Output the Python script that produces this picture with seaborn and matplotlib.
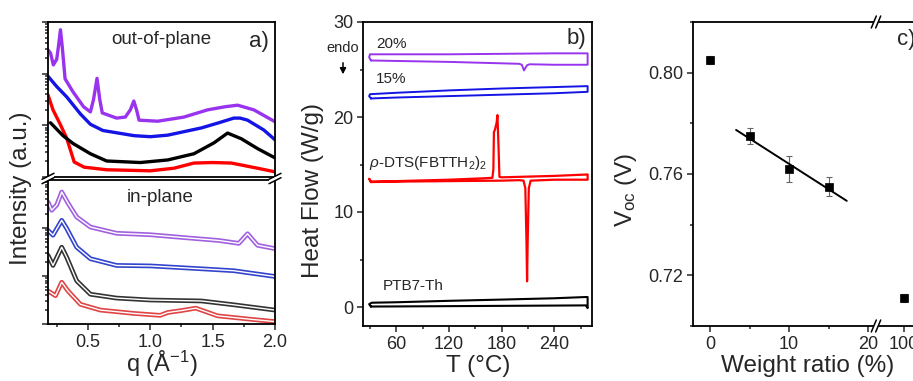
import numpy as np
import matplotlib
matplotlib.use("Agg")
import matplotlib.pyplot as plt
import seaborn as sns
from matplotlib.ticker import MultipleLocator, FixedLocator, NullLocator, NullFormatter, FormatStrFormatter
from matplotlib.lines import Line2D
from matplotlib.patches import Polygon

# ---- panel a: GIWAXS line cuts, log10 intensity (a.u.) ----
q_oop_pur = [0.18, 0.20, 0.223, 0.25, 0.265, 0.28, 0.295, 0.317, 0.38, 0.465, 0.52, 0.545, 0.573, 0.595,
             0.615, 0.73, 0.80, 0.84, 0.868, 0.89, 0.91, 1.06, 1.27, 1.46, 1.60, 1.70, 1.83, 2.0]
l_oop_pur = [2.46, 2.40, 2.17, 2.28, 2.55, 2.85, 2.50, 1.90, 1.65, 1.36, 1.26, 1.50, 1.91, 1.50,
             1.24, 1.14, 1.16, 1.30, 1.47, 1.30, 1.10, 1.08, 1.16, 1.30, 1.36, 1.39, 1.30, 1.07]
q_oop_blu = [0.18, 0.25, 0.33, 0.44, 0.52, 0.62, 0.87, 1.0, 1.14, 1.41, 1.55, 1.67, 1.72, 1.78, 1.91, 2.0]
l_oop_blu = [1.95, 1.75, 1.55, 1.22, 1.02, 0.90, 0.80, 0.78, 0.81, 0.95, 1.05, 1.14, 1.14, 1.10, 0.91, 0.72]
q_oop_blk = [0.20, 0.30, 0.38, 0.45, 0.52, 0.65, 0.92, 1.14, 1.35, 1.51, 1.62, 1.73, 1.86, 2.0]
l_oop_blk = [1.05, 0.80, 0.65, 0.55, 0.45, 0.31, 0.28, 0.33, 0.45, 0.66, 0.85, 0.74, 0.55, 0.37]
q_oop_red = [0.18, 0.22, 0.28, 0.33, 0.36, 0.39, 0.47, 0.65, 1.0, 1.19, 1.35, 1.50, 1.65, 1.86, 2.0]
l_oop_red = [1.59, 1.30, 1.01, 0.75, 0.52, 0.29, 0.19, 0.14, 0.12, 0.17, 0.27, 0.28, 0.27, 0.17, 0.10]

q_ip_pur = [0.18, 0.21, 0.25, 0.29, 0.34, 0.41, 0.52, 0.73, 1.0, 1.27, 1.55, 1.71, 1.78, 1.86, 2.0]
l_ip_pur = [2.54, 2.37, 2.48, 2.75, 2.52, 2.23, 2.02, 1.89, 1.86, 1.80, 1.74, 1.68, 1.88, 1.64, 1.57]
q_ip_blu = [0.18, 0.22, 0.29, 0.33, 0.41, 0.52, 0.73, 1.0, 1.41, 1.67, 2.0]
l_ip_blu = [1.95, 1.85, 2.16, 1.99, 1.60, 1.36, 1.22, 1.21, 1.15, 1.11, 0.99]
q_ip_blk = [0.18, 0.22, 0.29, 0.33, 0.41, 0.52, 0.73, 1.0, 1.41, 1.67, 2.0]
l_ip_blk = [1.43, 1.22, 1.60, 1.39, 0.90, 0.62, 0.54, 0.50, 0.48, 0.40, 0.29]
q_ip_red = [0.18, 0.24, 0.29, 0.34, 0.44, 0.60, 0.87, 1.08, 1.14, 1.25, 1.365, 1.54, 1.80, 2.0]
l_ip_red = [0.69, 0.59, 0.87, 0.69, 0.41, 0.29, 0.22, 0.18, 0.24, 0.28, 0.33, 0.17, 0.10, 0.05]

# ---- panel b: DSC heating (lower) and cooling (upper) traces, W/g ----
t20_heat = [31, 60, 120, 180, 200, 203, 205.5, 207, 209, 212, 240, 278]
hf20_heat = [25.95, 25.9, 25.8, 25.65, 25.6, 25.5, 24.9, 25.15, 25.45, 25.55, 25.5, 25.5]
t20_cool = [278, 240, 180, 120, 60, 30, 29]
hf20_cool = [26.7, 26.7, 26.65, 26.6, 26.6, 26.6, 26.3]

t15_heat = [31, 60, 120, 180, 240, 278]
hf15_heat = [21.95, 22.05, 22.2, 22.35, 22.5, 22.65]
t15_cool = [278, 240, 180, 120, 60, 30, 29]
hf15_cool = [23.25, 23.15, 23.0, 22.8, 22.55, 22.4, 22.2]

tsm_heat = [31, 60, 120, 180, 200, 205, 207, 208.3, 209, 209.7, 211, 213, 240, 278]
hfsm_heat = [13.15, 13.2, 13.25, 13.3, 13.35, 13.3, 12.5, 7.0, 2.7, 7.0, 12.5, 13.3, 13.4, 13.4]
tsm_cool = [278, 240, 200, 180, 177.5, 176.6, 175.2, 174.3, 172.5, 171.2, 170.6, 169.5, 160, 120, 60, 31, 29]
hfsm_cool = [13.95, 13.8, 13.7, 13.65, 13.7, 16.5, 20.2, 19.4, 18.7, 18.4, 14.5, 13.6, 13.55, 13.4, 13.25, 13.2, 13.5]

tpol_heat = [31, 60, 120, 180, 240, 276, 278]
hfpol_heat = [0.05, 0.06, 0.09, 0.12, 0.15, 0.17, -0.12]
tpol_cool = [278, 276, 240, 180, 120, 60, 32, 29]
hfpol_cool = [1.05, 1.05, 0.92, 0.78, 0.65, 0.5, 0.45, 0.3]

# ---- panel c: Voc vs weight ratio ----
weight = [0, 5, 10, 15, 100]
voc = [0.805, 0.775, 0.762, 0.755, 0.711]
voc_err = [0.0015, 0.003, 0.005, 0.0037, 0.0015]
fit_range = [3.3, 17.3]

PUR, BLU, RED = "#9933ee", "#1414e6", "#ff0000"
PUR_L, BLU_L, BLK_L, RED_L = "#a060e0", "#3344cc", "#333333", "#e04444"

sns.set_style("ticks")
plt.rcParams["font.family"] = ["Liberation Sans", "DejaVu Sans"]
plt.rcParams["mathtext.fontset"] = "custom"
plt.rcParams["mathtext.rm"] = "Liberation Sans"
plt.rcParams["mathtext.it"] = "Liberation Sans:italic"
plt.rcParams["axes.linewidth"] = 1.3

W, H = 913, 381
fig = plt.figure(figsize=(W / 100, H / 100), dpi=100)


def box(l, t, r, b):
    return [l / W, 1 - b / H, (r - l) / W, (b - t) / H]


def px(x, y):
    return x / W, 1 - y / H


def style(ax, left=True, bottom=True):
    ax.tick_params(which="both", direction="out", width=1.1, labelsize=13,
                   top=False, right=False, left=left, bottom=bottom, pad=3)
    ax.tick_params(which="major", length=4)
    ax.tick_params(which="minor", length=2.5)
    for s in ax.spines.values():
        s.set_color("black")


ax_t = fig.add_axes(box(48, 22, 275, 177))
ax_l = fig.add_axes(box(48, 180, 275, 324))
ax_b = fig.add_axes(box(363, 22, 592, 326))
ax_c1 = fig.add_axes(box(693, 22, 876, 326))
ax_c2 = fig.add_axes(box(876, 22, 950, 326))

# ---------- panel a ----------
for q, l, c in [(q_oop_red, l_oop_red, RED), (q_oop_blk, l_oop_blk, "black"),
                (q_oop_blu, l_oop_blu, BLU), (q_oop_pur, l_oop_pur, PUR)]:
    sns.lineplot(x=q, y=10 ** np.array(l), color=c, lw=2.4, sort=False, estimator=None, ax=ax_t)
for q, l, c in [(q_ip_red, l_ip_red, RED_L), (q_ip_blk, l_ip_blk, BLK_L),
                (q_ip_blu, l_ip_blu, BLU_L), (q_ip_pur, l_ip_pur, PUR_L)]:
    yv = 10 ** np.array(l)
    sns.lineplot(x=q, y=yv, color=c, lw=3.4, sort=False, estimator=None, ax=ax_l)
    sns.lineplot(x=q, y=yv, color="white", lw=1.0, sort=False, estimator=None, ax=ax_l)

for ax in (ax_t, ax_l):
    ax.set_yscale("log")
    ax.set_ylim(1, 1000)
    ax.set_xlim(0.18, 2.0)
    ax.yaxis.set_major_formatter(NullFormatter())
    ax.yaxis.set_minor_formatter(NullFormatter())
    ax.set_xlabel("")
    ax.set_ylabel("")
    style(ax)
ax_t.tick_params(which="both", bottom=False, labelbottom=False)
ax_l.xaxis.set_major_locator(MultipleLocator(0.5))
ax_l.xaxis.set_minor_locator(MultipleLocator(0.25))
ax_l.xaxis.set_major_formatter(FormatStrFormatter("%.1f"))

ax_t.text(0.498, 0.884, "out-of-plane", transform=ax_t.transAxes, ha="center", va="center", fontsize=13.5)
ax_t.text(0.93, 0.877, "a)", transform=ax_t.transAxes, ha="center", va="center", fontsize=16)
ax_l.text(0.493, 0.875, "in-plane", transform=ax_l.transAxes, ha="center", va="center", fontsize=13.5)

# ---------- panel b ----------
for th, hh, tc, hc, c, lw in [(tpol_heat, hfpol_heat, tpol_cool, hfpol_cool, "black", 1.5),
                              (tsm_heat, hfsm_heat, tsm_cool, hfsm_cool, RED, 1.6),
                              (t15_heat, hf15_heat, t15_cool, hf15_cool, BLU, 1.4),
                              (t20_heat, hf20_heat, t20_cool, hf20_cool, PUR, 1.4)]:
    tt = th + tc + th[:1]
    hf = hh + hc + hh[:1]
    sns.lineplot(x=tt, y=hf, color=c, lw=lw, sort=False, estimator=None, ax=ax_b)
ax_b.set_xlim(22, 283)
ax_b.set_ylim(-2, 30)
ax_b.xaxis.set_major_locator(MultipleLocator(60))
ax_b.xaxis.set_minor_locator(MultipleLocator(30))
ax_b.yaxis.set_major_locator(MultipleLocator(10))
ax_b.yaxis.set_minor_locator(MultipleLocator(5))
ax_b.set_xlabel("")
ax_b.set_ylabel("")
style(ax_b)
ax_b.text(37, 26.9, "20%", fontsize=11, ha="left", va="bottom")
ax_b.text(37, 23.3, "15%", fontsize=11, ha="left", va="bottom")
ax_b.text(29, 14.2, r"$\it{\rho}$-DTS(FBTTH$_2$)$_2$", fontsize=11, ha="left", va="bottom")
ax_b.text(44, 1.5, "PTB7-Th", fontsize=11, ha="left", va="bottom")
ax_b.text(0.93, 0.947, "b)", transform=ax_b.transAxes, ha="center", va="center", fontsize=16)
fig.text(*px(343, 48), "endo", fontsize=10.5, ha="center", va="center")
ax_b.annotate("", xy=px(343, 77), xytext=px(343, 60), xycoords="figure fraction",
              textcoords="figure fraction",
              arrowprops=dict(arrowstyle="-|>,head_length=0.35,head_width=0.18", color="black", lw=1.1))

# ---------- panel c ----------
slope, icept = np.polyfit(weight[1:4], voc[1:4], 1)
fit_y = [slope * x + icept for x in fit_range]
for ax in (ax_c1, ax_c2):
    ax.errorbar(weight, voc, yerr=voc_err, fmt="none", ecolor="#666666", elinewidth=0.8, capsize=2.5, capthick=0.8)
    sns.scatterplot(x=weight, y=voc, marker="s", s=32, color="black", edgecolor="black", linewidth=0.5, ax=ax, zorder=3)
    ax.set_ylim(0.70, 0.82)
    ax.set_xlabel("")
    ax.set_ylabel("")
sns.lineplot(x=fit_range, y=fit_y, color="black", lw=1.4, ax=ax_c1)
ax_c1.set_xlim(-2.15, 21)
ax_c2.set_xlim(97, 105)
ax_c1.xaxis.set_major_locator(MultipleLocator(10))
ax_c1.xaxis.set_minor_locator(MultipleLocator(5))
ax_c1.yaxis.set_major_locator(MultipleLocator(0.04))
ax_c1.yaxis.set_minor_locator(MultipleLocator(0.02))
ax_c1.yaxis.set_major_formatter(FormatStrFormatter("%.2f"))
ax_c2.xaxis.set_major_locator(FixedLocator([100]))
ax_c2.xaxis.set_minor_locator(NullLocator())
ax_c1.spines["right"].set_visible(False)
ax_c2.spines["left"].set_visible(False)
style(ax_c1)
style(ax_c2, left=False)
ax_c2.tick_params(labelleft=False)
# panel label sits at the right edge, partly cut as in the source figure
fig.text(*px(897, 39), "c)", fontsize=16, ha="left", va="center")

# ---------- axis labels ----------
fig.text(*px(21, 188), "Intensity (a.u.)", rotation=90, ha="center", va="center", fontsize=17.5)
fig.text(*px(162, 364), r"q (Å$^{-1}$)", ha="center", va="center", fontsize=17)
fig.text(*px(313, 190), "Heat Flow (W/g)", rotation=90, ha="center", va="center", fontsize=17.5)
fig.text(*px(478, 366), "T (°C)", ha="center", va="center", fontsize=17.5)
fig.text(*px(626, 190), r"V$_{\rm oc}$ (V)", rotation=90, ha="center", va="center", fontsize=17.5)
fig.text(*px(808, 366), "Weight ratio (%)", ha="center", va="center", fontsize=17.5)


# ---------- axis break marks ----------
def break_mark(x, y, dx, dy, ox, oy):
    corners = [(x - dx - ox, y + dy - oy), (x + dx - ox, y - dy - oy),
               (x + dx + ox, y - dy + oy), (x - dx + ox, y + dy + oy)]
    fig.add_artist(Polygon([px(*c) for c in corners], closed=True, fc="white", ec="none", zorder=10))
    for s in (-1, 1):
        a = px(x - dx + s * ox, y + dy + s * oy)
        b = px(x + dx + s * ox, y - dy + s * oy)
        fig.add_artist(Line2D([a[0], b[0]], [a[1], b[1]], color="black", lw=1.1, zorder=11))


break_mark(48, 178.5, 6, 3, 0, 2.2)
break_mark(275, 178.5, 6, 3, 0, 2.2)
break_mark(876, 22, 2.5, 6, 2.2, 0)
break_mark(876, 326, 2.5, 6, 2.2, 0)

fig.savefig("out.png", dpi=100)
